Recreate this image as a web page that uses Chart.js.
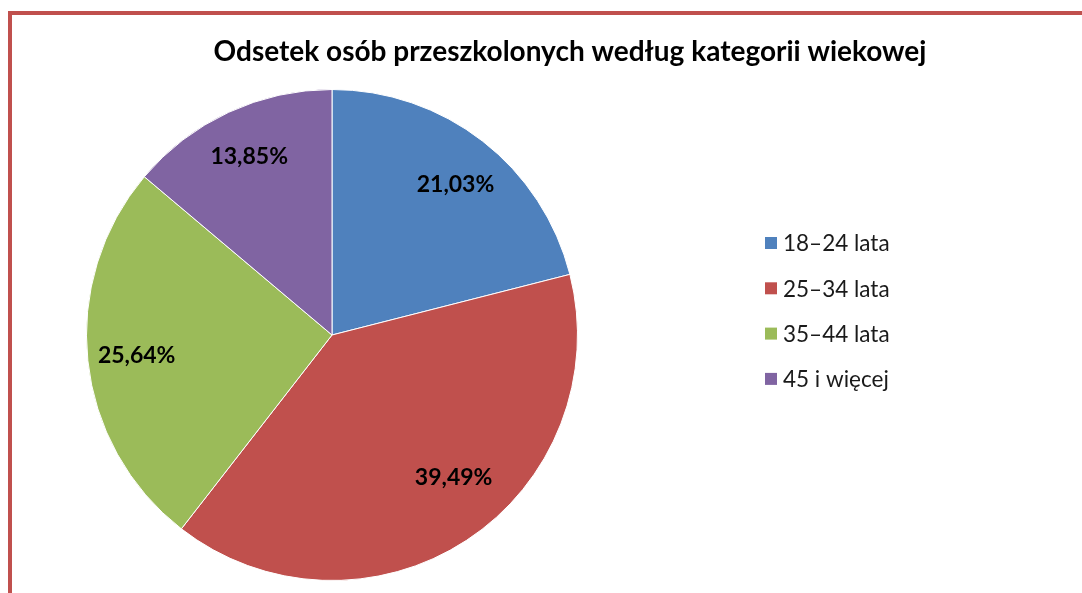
<!DOCTYPE html>
<html>
<head>
<meta charset="utf-8">
<script src="https://cdn.jsdelivr.net/npm/chart.js"></script>
<style>
  html, body { margin: 0; padding: 0; background: #fff; }
  #wrap { position: relative; width: 1082px; height: 593px; overflow: hidden; }
  #frame {
    position: absolute; left: 8px; top: 11px; right: 0; bottom: 0;
    border-top: 4px solid #C0504D; border-left: 4px solid #C0504D;
    pointer-events: none;
  }
  canvas { position: absolute; left: 0; top: 0; }
</style>
</head>
<body>
<div id="wrap">
  <canvas id="pie" width="1082" height="593"></canvas>
  <div id="frame"></div>
</div>
<script>
const categories = ["18–24 lata", "25–34 lata", "35–44 lata", "45 i więcej"];
const shares = [21.03, 39.49, 25.64, 13.85];
const colors = ["#4F81BD", "#C0504D", "#9BBB59", "#8064A2"];
const chartTitle = "Odsetek osób przeszkolonych według kategorii wiekowej";

const FONT = "Lato, 'Open Sans', sans-serif";

// title drawn across the whole frame (not only over the pie area)
const frameTitle = {
  id: "frameTitle",
  afterDraw(chart) {
    const ctx = chart.ctx;
    ctx.save();
    ctx.font = "bold 28px " + FONT;
    ctx.fillStyle = "#000";
    ctx.textAlign = "center";
    ctx.textBaseline = "alphabetic";
    ctx.fillText(chartTitle, 570, 61);
    ctx.restore();
  }
};

// percent labels inside the slices (red one sits a bit off the mid angle, like Excel's best fit)
const labelNudge = [[3, 5], [14, -22], [0, 0], [0, 0]];
const sliceLabels = {
  id: "sliceLabels",
  afterDatasetsDraw(chart) {
    const ctx = chart.ctx;
    const meta = chart.getDatasetMeta(0);
    ctx.save();
    ctx.font = "bold 23px " + FONT;
    ctx.fillStyle = "#000";
    ctx.textAlign = "center";
    ctx.textBaseline = "middle";
    meta.data.forEach((arc, i) => {
      const p = arc.getProps(["x", "y", "startAngle", "endAngle", "outerRadius"], true);
      const mid = (p.startAngle + p.endAngle) / 2;
      const r = p.outerRadius * 0.8;
      const txt = shares[i].toFixed(2).replace(".", ",") + "%";
      ctx.fillText(txt, p.x + Math.cos(mid) * r + labelNudge[i][0], p.y + Math.sin(mid) * r + labelNudge[i][1]);
    });
    ctx.restore();
  }
};

// legend on the right, drawn from the chart data
const sideLegend = {
  id: "sideLegend",
  afterDraw(chart) {
    const ctx = chart.ctx;
    const x = 765, y0 = 243, step = 45.3;
    ctx.save();
    ctx.font = "22.5px " + FONT;
    ctx.textBaseline = "middle";
    chart.data.labels.forEach((lab, i) => {
      const y = y0 + i * step;
      ctx.fillStyle = chart.data.datasets[0].backgroundColor[i];
      ctx.fillRect(x, y - 6, 12, 12);
      ctx.fillStyle = "#1a1a1a";
      ctx.fillText(lab, x + 18, y + 1);
    });
    ctx.restore();
  }
};

new Chart(document.getElementById("pie"), {
  type: "pie",
  data: {
    labels: categories,
    datasets: [{
      data: shares,
      backgroundColor: colors,
      borderColor: "#ffffff",
      borderWidth: 1
    }]
  },
  options: {
    responsive: false,
    animation: false,
    layout: { padding: { left: 86, right: 504, top: 89, bottom: 12 } },
    plugins: {
      legend: { display: false },
      tooltip: { enabled: false },
      title: { display: false }
    }
  },
  plugins: [sliceLabels, sideLegend, frameTitle]
});
</script>
</body>
</html>
